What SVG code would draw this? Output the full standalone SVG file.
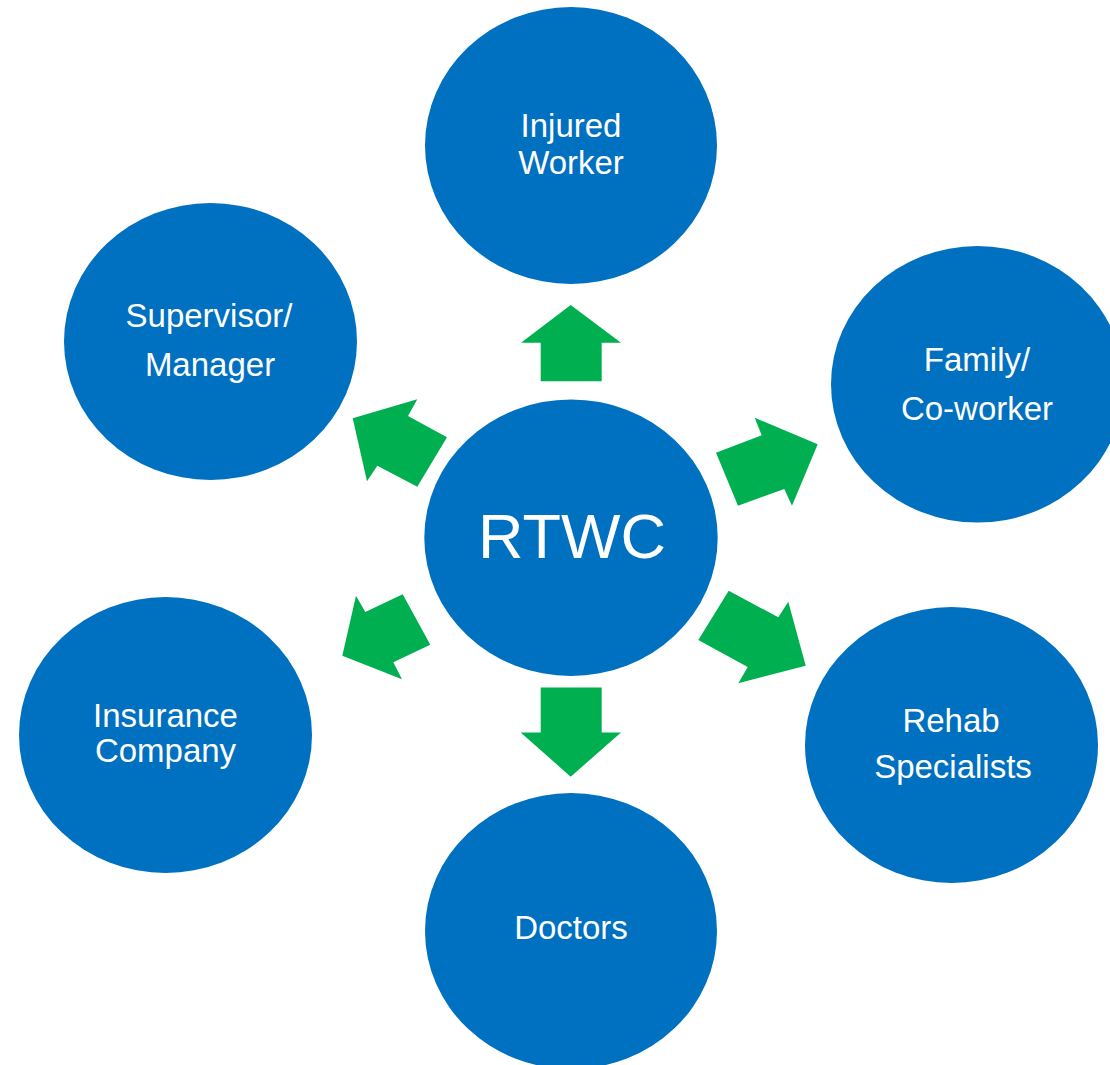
<svg xmlns="http://www.w3.org/2000/svg" width="1110" height="1065" viewBox="0 0 1110 1065">
  <style>
    .node { fill: #0070C0; }
    .label { fill: #FFFFFF; font-family: "Liberation Sans", Arial, sans-serif; font-size: 33px; text-anchor: middle; }
    .big { font-size: 63px; }
    .arrow { fill: #00B050; }
  </style>
  <rect width="1110" height="1065" fill="#FFFFFF"/>

  <!-- block arrows radiating from the centre -->
  <g id="connectors">
    <polygon class="arrow" points="540.7,381.3 540.7,342.7 521,342.7 570.7,305 621,342.7 601.7,342.7 601.7,381.3"/>
    <polygon class="arrow" points="540.7,687.5 601.7,687.5 601.7,732.5 621,732.5 570.7,776.7 520.7,732.5 540.7,732.5"/>
    <polygon class="arrow" points="417.3,399.3 352.7,418.3 367,481.3 377.3,465.7 417.3,486.7 447,437.3 408,416"/>
    <polygon class="arrow" points="754.7,417.7 817.7,444.3 792,505.7 784.3,489 738,505.7 716,452.7 761.7,435.3"/>
    <polygon class="arrow" points="728.7,590.7 778.3,617.3 788.3,601.7 805.7,665.7 738.3,683.3 747.7,667 698.3,640"/>
    <polygon class="arrow" points="402.7,594.3 430.3,644.7 393.3,662.3 402,679.3 342.3,655.7 356,595.7 365.3,612"/>
  </g>

  <g id="rtwc">
    <ellipse class="node" cx="571" cy="537.7" rx="146.7" ry="138.3"/>
    <text class="label big" x="572" y="558">RTWC</text>
  </g>

  <g id="injured-worker">
    <ellipse class="node" cx="571" cy="145.5" rx="146" ry="138.5"/>
    <text class="label" x="571" y="136.5">Injured</text>
    <text class="label" x="571" y="174">Worker</text>
  </g>

  <g id="supervisor-manager">
    <ellipse class="node" cx="210.5" cy="341.5" rx="146.5" ry="138.5"/>
    <text class="label" x="209" y="327.3">Supervisor/</text>
    <text class="label" x="210" y="376">Manager</text>
  </g>

  <g id="family-coworker">
    <ellipse class="node" cx="977.5" cy="384.3" rx="146.5" ry="138.3"/>
    <text class="label" x="977" y="370.7">Family/</text>
    <text class="label" x="977" y="420">Co-worker</text>
  </g>

  <g id="insurance-company">
    <ellipse class="node" cx="165.5" cy="735" rx="146.5" ry="138"/>
    <text class="label" x="165.5" y="726.7">Insurance</text>
    <text class="label" x="165.5" y="762">Company</text>
  </g>

  <g id="rehab-specialists">
    <ellipse class="node" cx="951.5" cy="745" rx="146.5" ry="138"/>
    <text class="label" x="951" y="731.7">Rehab</text>
    <text class="label" x="953" y="778">Specialists</text>
  </g>

  <g id="doctors">
    <ellipse class="node" cx="571" cy="931" rx="146" ry="138"/>
    <text class="label" x="571" y="939.3">Doctors</text>
  </g>
</svg>
